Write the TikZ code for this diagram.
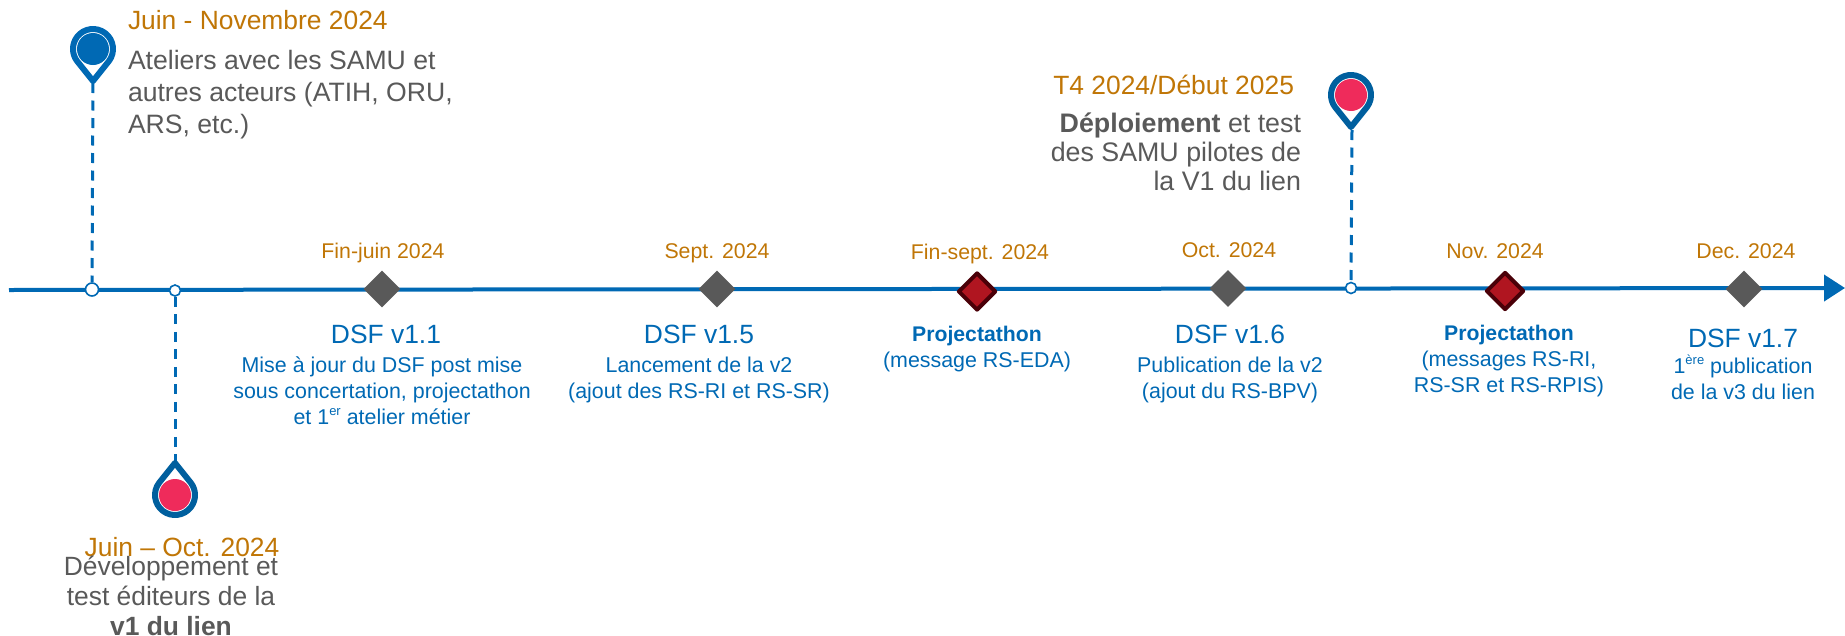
\documentclass[tikz,border=0pt]{standalone}
\usepackage{fontspec}
\setmainfont{Liberation Sans}
\usetikzlibrary{arrows.meta,shapes.geometric}
\definecolor{bleu}{HTML}{0069B4}
\definecolor{bleufonce}{HTML}{005F9E}
\definecolor{ocre}{HTML}{C07606}
\definecolor{gris}{HTML}{595959}
\definecolor{rose}{HTML}{EF2B5B}
\definecolor{rouge}{HTML}{B01520}
\definecolor{bordeaux}{HTML}{4A0008}
\tikzset{
  txt/.style={inner sep=0pt,outer sep=0pt,anchor=base},
  datesm/.style={txt,text=ocre,font=\fontsize{21.3}{26}\selectfont},
  datelg/.style={txt,text=ocre,font=\fontsize{26.4}{32}\selectfont},
  notetxt/.style={txt,text=gris,font=\fontsize{26.6}{32}\selectfont},
  dsftitle/.style={txt,text=bleu,font=\fontsize{26.4}{32}\selectfont},
  desc/.style={txt,text=bleu,align=center,font=\fontsize{21.4}{26}\selectfont},
  axisline/.style={draw=bleu,line width=4pt,-{Triangle[length=21pt,width=26pt]}},
  dashline/.style={draw=bleu,line width=3pt,dash pattern=on 10pt off 7.5pt},
  dot/.style={circle,draw=bleu,fill=white,line width=1.6pt,inner sep=0pt,minimum size=#1},
  jalon/.style={diamond,fill=gris,inner sep=0pt,minimum size=37pt},
  projet/.style={diamond,fill=rouge,draw=bordeaux,line width=4pt,line join=round,inner sep=0pt,minimum size=38pt},
  pinouter/.style={line width=6pt,line join=round,fill=white},
}
\newcommand{\repere}[5]{% x, y (centre), rotation, ring colour, disc colour
  \begin{scope}[shift={(#1,#2)},rotate=#3]
    \draw[pinouter,draw=#4] (0,-32) -- (-37.3:20) arc (-37.3:217.3:20) -- cycle;
    \fill[#5] (0,0) circle (16);
  \end{scope}}
\begin{document}
\begin{tikzpicture}[x=1pt,y=1pt]
\useasboundingbox (0,0) rectangle (1845,-635);
% axis
\coordinate (axisA) at (9,-290);
\coordinate (axisB) at (1845,-288);
\draw[axisline] (axisA) -- (axisB);
% dots
\node[dot=13pt] (dotA) at (92,-289.5) {};
\node[dot=11pt] (dotB) at (175,-290.5) {};
\node[dot=11pt] (dotC) at (1351,-288) {};
% pin tips and dashes
\coordinate (tipA) at (93,-83);
\coordinate (tipB) at (175,-461);
\coordinate (tipC) at (1352,-130);
\draw[dashline] (tipA) -- (dotA);
\draw[dashline] (dotB) -- (tipB);
\draw[dashline] (tipC) -- (dotC);
\repere{93}{-49}{0}{bleu}{bleu}
\repere{175}{-495}{180}{bleufonce}{rose}
\repere{1351}{-95}{0}{bleufonce}{rose}
% markers
\node[jalon] (m1) at (382,-289) {};
\node[jalon] (m2) at (717,-289) {};
\node[projet] (m3) at (977,-291.5) {};
\node[jalon] (m4) at (1228,-288.5) {};
\node[projet] (m5) at (1505,-291) {};
\node[jalon] (m6) at (1744,-289) {};
% dates
\node[datesm] (d1) at (383,-258) {Fin-juin 2024};
\node[datesm] (d2) at (717,-258) {Sept. 2024};
\node[datesm] (d3) at (980,-259) {Fin-sept. 2024};
\node[datesm] (d4) at (1229,-257) {Oct. 2024};
\node[datesm] (d5) at (1495,-258) {Nov. 2024};
\node[datesm] (d6) at (1746,-258) {Dec. 2024};
% milestone texts
\node[dsftitle] (t1) at (386,-343) {DSF v1.1};
\node[desc] (x1) at (382,-424) {Mise à jour du DSF post mise\\sous concertation, projectathon\\et 1\raisebox{0.38em}{\fontsize{13}{13}\selectfont er} atelier métier};
\node[dsftitle] (t2) at (699,-343) {DSF v1.5};
\node[desc] (x2) at (699,-398) {Lancement de la v2\\(ajout des RS-RI et RS-SR)};
\node[txt,text=bleu,font=\fontsize{21.2}{26}\bfseries\selectfont] (t3) at (977,-341) {Projectathon};
\node[desc] (x3) at (977,-367) {(message RS-EDA)};
\node[dsftitle] (t4) at (1230,-343) {DSF v1.6};
\node[desc] (x4) at (1230,-398) {Publication de la v2\\(ajout du RS-BPV)};
\node[txt,text=bleu,font=\fontsize{21.2}{26}\bfseries\selectfont] (t5) at (1509,-340) {Projectathon};
\node[desc] (x5) at (1509,-392) {(messages RS-RI,\\RS-SR et RS-RPIS)};
\node[dsftitle] (t6) at (1743,-347) {DSF v1.7};
\node[desc] (x6) at (1743,-399) {1\raisebox{0.38em}{\fontsize{13}{13}\selectfont ère} publication\\de la v3 du lien};
% pin texts
\node[datelg,anchor=base west] (pa) at (128,-29) {Juin - Novembre 2024};
\node[notetxt,anchor=base west,align=left] (na) at (128,-133) {Ateliers avec les SAMU et\\autres acteurs (ATIH, ORU,\\ARS, etc.)};
\node[datelg] (pb) at (182,-556) {Juin – Oct. 2024};
\node[notetxt,align=center,font=\fontsize{26.4}{30}\selectfont] (nb) at (171,-635) {Développement et\\test éditeurs de la\\\textbf{v1 du lien}};
\node[datelg,anchor=base east] (pc) at (1294,-94) {T4 2024/Début 2025};
\node[notetxt,anchor=base east,align=right,font=\fontsize{26.8}{29}\selectfont] (nc) at (1301,-190) {\textbf{Déploiement} et test\\des SAMU pilotes de\\la V1 du lien};
\end{tikzpicture}
\end{document}
